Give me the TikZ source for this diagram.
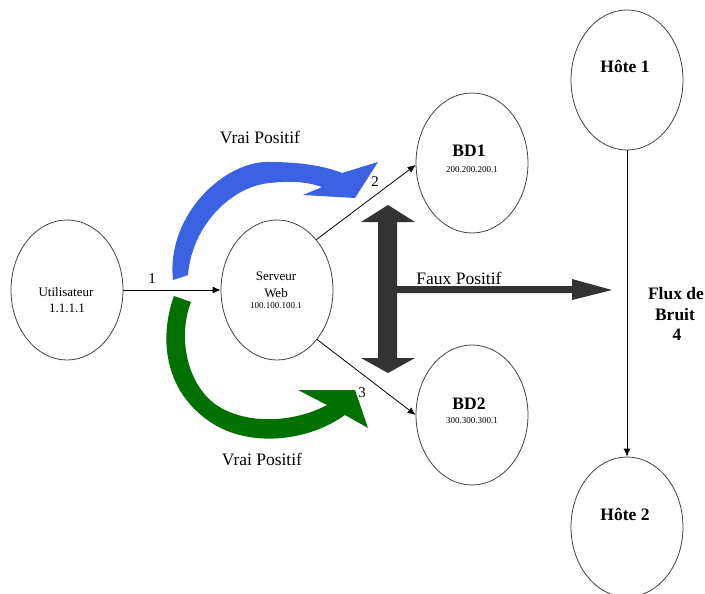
\documentclass[tikz,border=0pt]{standalone}
\usepackage{fontspec}
\setmainfont{Liberation Serif}
\usetikzlibrary{arrows.meta,shapes.geometric}
\definecolor{vpblue}{RGB}{58,98,226}
\definecolor{vpgreen}{RGB}{0,112,0}
\definecolor{fpgray}{RGB}{51,51,51}
\tikzset{
  host/.style={draw=black!75, line width=0.8pt, ellipse, minimum width=112pt, minimum height=140pt, inner sep=0pt},
  flow/.style={draw=black, line width=0.8pt, -{Latex[length=8pt,width=7pt]}},
  txt/.style={anchor=base, inner sep=0pt},
  mid/.style={txt, font=\fontsize{13}{15}\selectfont},
  tiny/.style={txt, font=\fontsize{9}{11}\selectfont},
  big/.style={txt, font=\bfseries\fontsize{17.5}{20}\selectfont},
  caption/.style={txt, font=\fontsize{17.5}{20}\selectfont},
  num/.style={txt, font=\fontsize{15}{17}\selectfont}
}
\begin{document}
\begin{tikzpicture}[x=1pt,y=-1pt]
\useasboundingbox (0,0) rectangle (705,594);

% ellipses
\node[host] (user) at (67,290) {};
\node[host] (web)  at (277,290) {};
\node[host] (bd1)  at (472,163) {};
\node[host] (bd2)  at (472,415) {};
\node[host] (h1)   at (627,80) {};
\node[host] (h2)   at (627,527) {};

% texts inside ellipses
\node[mid]  (usert1) at (66,296) {Utilisateur};
\node[mid]  (usert2) at (67,312) {1.1.1.1};
\node[mid]  (webt1)  at (276,280) {Serveur};
\node[mid]  (webt2)  at (276,297) {Web};
\node[tiny] (webt3)  at (276,308) {100.100.100.1};
\node[big]  (bd1t1)  at (469,157) {BD1};
\node[tiny] (bd1t2)  at (472,172) {200.200.200.1};
\node[big]  (bd2t1)  at (469,409) {BD2};
\node[tiny] (bd2t2)  at (472,423) {300.300.300.1};
\node[big]  (h1t)    at (625,73) {Hôte 1};
\node[big]  (h2t)    at (625,520) {Hôte 2};

% connectors
\draw[flow] (user.east) -- (web.west);
\draw[flow] (web.52) -- (bd1.182);
\draw[flow] (web.309) -- (bd2.180);
\draw[flow] (h1.south) -- (h2.north);

% numbers
\node[num] (n1) at (152,283) {1};
\node[num] (n2) at (375,186) {2};
\node[num] (n3) at (362,397) {3};

% Flux de bruit
\node[big] (flux1) at (676,299) {Flux de};
\node[big] (flux2) at (675,320) {Bruit};
\node[big] (flux3) at (677,340) {4};

% blue curved arrow
\fill[vpblue] (173,280) .. controls (166,215) and (225,160) .. (270,162)
  .. controls (300,162) and (325,166) .. (342,173) -- (378,162) -- (355,198)
  -- (303,195) -- (322,187) .. controls (305,181) and (287,181) .. (270,183)
  .. controls (232,186) and (192,225) .. (188,275) -- cycle;

% green curved arrow
\fill[vpgreen] (174,296) .. controls (158,340) and (165,395) .. (215,425)
  .. controls (255,448) and (310,440) .. (345,415) -- (368,428) -- (355,390)
  -- (298,390) -- (327,405) .. controls (290,425) and (235,425) .. (208,398)
  .. controls (183,372) and (180,330) .. (191,302) -- cycle;

% dark double arrow with branch
\fill[fpgray] (388,205) -- (415,222) -- (397,222) -- (397,286) -- (572,286)
  -- (572,279) -- (612,290) -- (572,300) -- (572,293) -- (397,293) -- (397,358)
  -- (415,358) -- (388,373) -- (361,358) -- (378,358) -- (378,222) -- (361,222) -- cycle;

% captions
\node[caption] (vp1) at (260,143) {Vrai Positif};
\node[caption] (vp2) at (262,465) {Vrai Positif};
\node[caption] (fp)  at (459,284) {Faux Positif};
\end{tikzpicture}
\end{document}
